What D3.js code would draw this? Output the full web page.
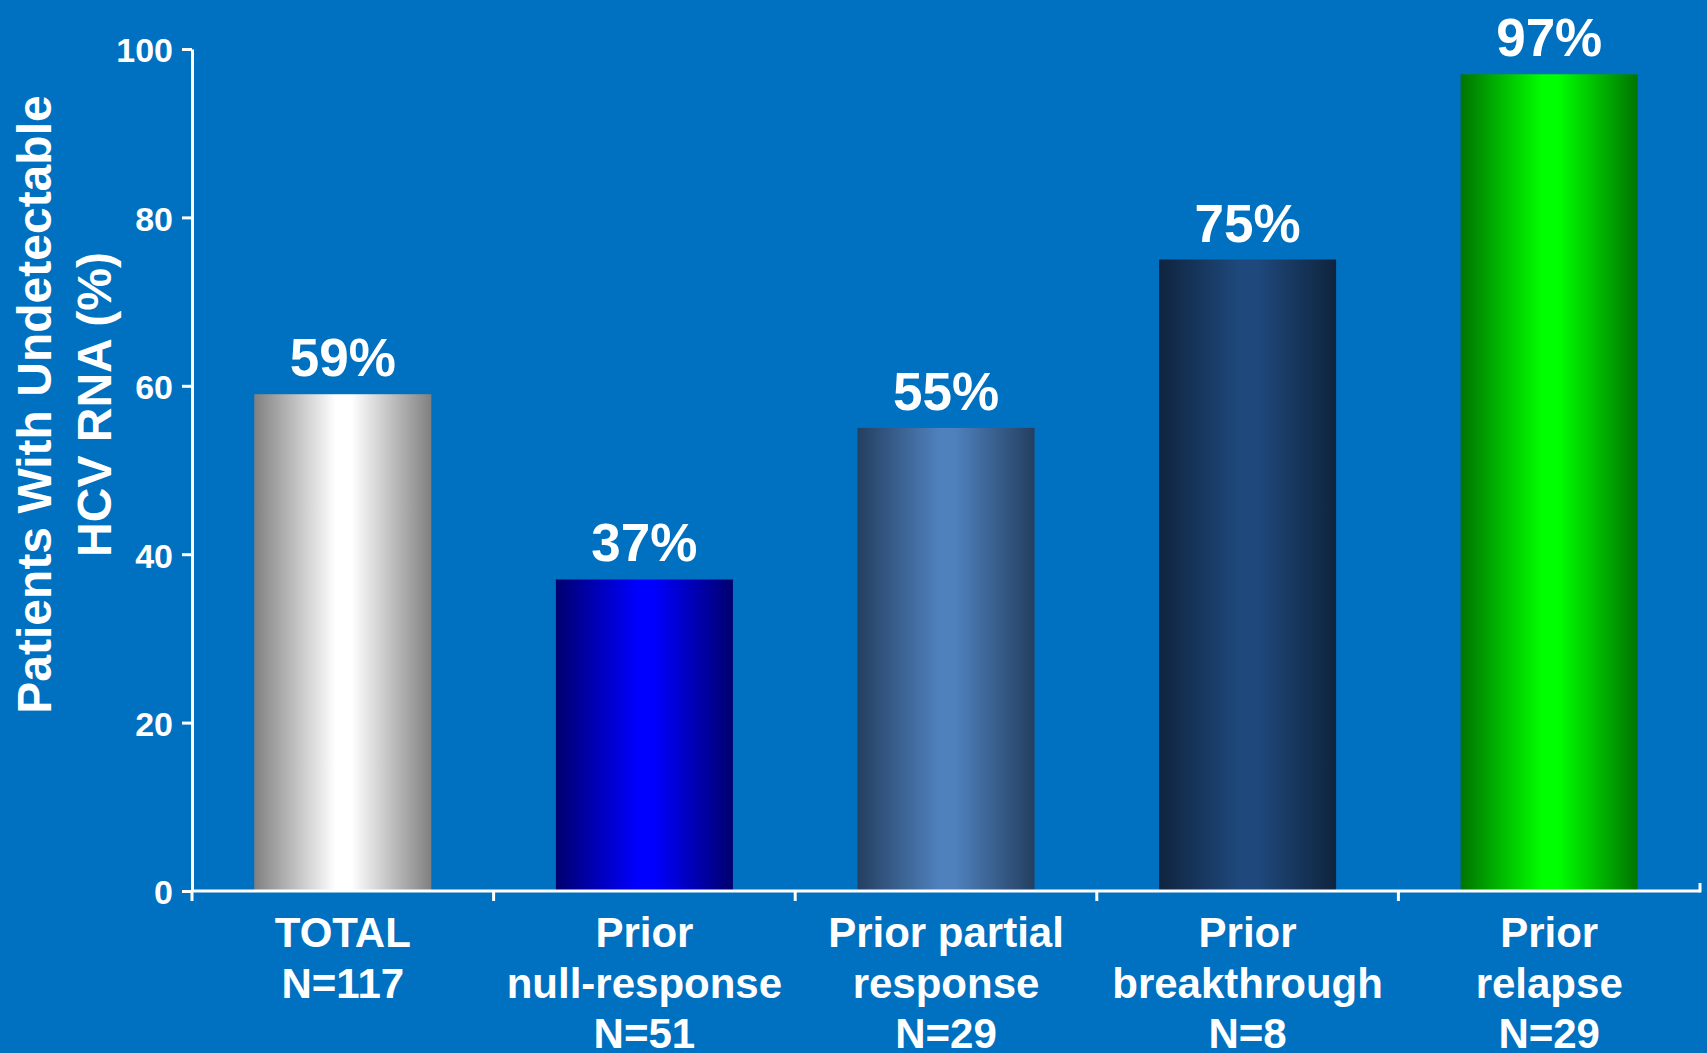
<!DOCTYPE html>
<html>
<head>
<meta charset="utf-8">
<script src="https://cdn.jsdelivr.net/npm/d3@7"></script>
<style>
  html, body { margin: 0; padding: 0; background: #0070C0; }
  svg { display: block; }
  text { font-family: "Liberation Sans", Arial, sans-serif; font-weight: bold; fill: #ffffff; }
</style>
</head>
<body>
<script>
// Response rates by prior treatment history
const categories = ["TOTAL", "Prior\nnull-response", "Prior partial\nresponse", "Prior\nbreakthrough", "Prior\nrelapse"];
const counts = [117, 51, 29, 8, 29];
const values = [59, 37, 55, 75, 97];
const yTicks = [0, 20, 40, 60, 80, 100];
const yTitle = ["Patients With Undetectable", "HCV RNA (%)"];

// Bar fills: [edge colour, centre colour] of a horizontal cylinder-like gradient
const palette = [
  ["#808080", "#ffffff"],
  ["#00006e", "#0000ff"],
  ["#243f60", "#4f81bd"],
  ["#0f243e", "#1f497d"],
  ["#007400", "#00ff00"]
];

const W = 1707, H = 1053;
const svg = d3.select("body").append("svg").attr("width", W).attr("height", H);
svg.append("rect").attr("width", W).attr("height", H).attr("fill", "#0070C0");

const x = d3.scaleBand().domain(d3.range(categories.length)).range([192, 1700]).padding(0);
const y = d3.scaleLinear().domain([0, 100]).range([891, 49]);
const barW = x.bandwidth() * 0.587;

// gradients
const defs = svg.append("defs");
palette.forEach((c, i) => {
  const g = defs.append("linearGradient").attr("id", "grad" + i)
    .attr("x1", "0%").attr("x2", "100%").attr("y1", "0%").attr("y2", "0%");
  g.append("stop").attr("offset", "0%").attr("stop-color", c[0]);
  g.append("stop").attr("offset", "46%").attr("stop-color", c[1]);
  g.append("stop").attr("offset", "55%").attr("stop-color", c[1]);
  g.append("stop").attr("offset", "100%").attr("stop-color", c[0]);
});

// bars
svg.append("g").selectAll("rect").data(values).join("rect")
  .attr("x", (d, i) => x(i) + (x.bandwidth() - barW) / 2)
  .attr("width", barW)
  .attr("y", d => y(d))
  .attr("height", d => y(0) - y(d))
  .attr("fill", (d, i) => `url(#grad${i})`);

// value labels
svg.append("g").selectAll("text").data(values).join("text")
  .attr("x", (d, i) => x(i) + x.bandwidth() / 2)
  .attr("y", d => y(d) - 18)
  .attr("text-anchor", "middle")
  .style("font-size", "53px")
  .text(d => d + "%");

// y axis
const yAxis = svg.append("g").attr("transform", "translate(192,0)")
  .call(d3.axisLeft(y).tickValues(yTicks).tickSize(10).tickSizeOuter(0).tickPadding(9));
yAxis.select(".domain").attr("stroke", "#fff").attr("stroke-width", 3);
yAxis.selectAll(".tick line").attr("stroke", "#fff").attr("stroke-width", 3);
yAxis.selectAll(".tick text").attr("fill", "#fff").attr("dy", "0.38em")
  .style("font-size", "34px").style("font-family", "'Liberation Sans', Arial, sans-serif").style("font-weight", "bold");

// x axis baseline with ticks at category boundaries
const xAxis = svg.append("g");
xAxis.append("line")
  .attr("x1", x.range()[0]).attr("x2", x.range()[1])
  .attr("y1", y(0)).attr("y2", y(0))
  .attr("stroke", "#fff").attr("stroke-width", 3);
xAxis.selectAll("line.tick").data(d3.range(categories.length)).join("line")
  .attr("class", "tick")
  .attr("x1", i => x(i)).attr("x2", i => x(i))
  .attr("y1", y(0)).attr("y2", y(0) + 10)
  .attr("stroke", "#fff").attr("stroke-width", 3);
xAxis.append("line")
  .attr("x1", x.range()[1]).attr("x2", x.range()[1])
  .attr("y1", y(0) - 8).attr("y2", y(0) + 1.5)
  .attr("stroke", "#fff").attr("stroke-width", 3);

// category labels
const labels = svg.append("g").selectAll("text").data(categories).join("text")
  .attr("text-anchor", "middle")
  .style("font-size", "42px");
labels.each(function (d, i) {
  const lines = d.split("\n").concat(["N=" + counts[i]]);
  const t = d3.select(this);
  lines.forEach((l, k) => {
    t.append("tspan")
      .attr("x", x(i) + x.bandwidth() / 2)
      .attr("y", 947 + k * 50.5)
      .text(l);
  });
});

// y axis title
const title = svg.append("text")
  .attr("transform", "translate(0,404.5) rotate(-90)")
  .attr("text-anchor", "middle")
  .style("font-size", "48px");
yTitle.forEach((l, k) => {
  title.append("tspan").attr("x", 0).attr("y", 51 + k * 60).text(l);
});
</script>
</body>
</html>
